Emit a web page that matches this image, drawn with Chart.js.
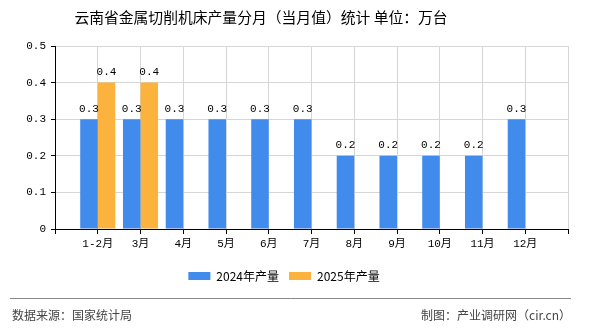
<!DOCTYPE html>
<html>
<head>
<meta charset="utf-8">
<script src="https://cdn.jsdelivr.net/npm/chart.js@4.4.1/dist/chart.umd.min.js"></script>
<style>
  html, body { margin: 0; padding: 0; background: #fff; }
  #wrap { width: 590px; height: 330px; position: relative; }
</style>
</head>
<body>
<div id="wrap"><canvas id="grafico"></canvas></div>
<script>
// datos del grafico
const meses = ["1-2月", "3月", "4月", "5月", "6月", "7月", "8月", "9月", "10月", "11月", "12月"];
const produccion2024 = [0.3, 0.3, 0.3, 0.3, 0.3, 0.3, 0.2, 0.2, 0.2, 0.2, 0.3];
const produccion2025 = [0.4, 0.4, null, null, null, null, null, null, null, null, null];
const ticksY = [0, 0.1, 0.2, 0.3, 0.4, 0.5];

const titulo = "云南省金属切削机床产量分月（当月值）统计 单位：万台";
const fuente = "数据来源：国家统计局";
const autor = "制图：产业调研网（cir.cn）";

const azul = "#418bed";
const naranja = "#fbb33e";
const mono = "'Liberation Mono', 'Noto Sans CJK SC', monospace";
const cjk = "'Noto Sans CJK SC', sans-serif";

// huecos a los lados, como en el original
const etiquetas = ["", ...meses, ""];
const rellenar = arr => [null, ...arr, null];

// etiquetas encima de las barras + titulo + pie
const extras = {
  id: "extras",
  afterDatasetsDraw(chart) {
    const ctx = chart.ctx;
    ctx.save();
    ctx.font = "11px " + mono;
    ctx.fillStyle = "#000";
    ctx.textAlign = "center";
    ctx.textBaseline = "bottom";
    chart.data.datasets.forEach((ds, i) => {
      const meta = chart.getDatasetMeta(i);
      meta.data.forEach((bar, j) => {
        const v = ds.data[j];
        if (v === null || v === undefined) return;
        ctx.fillText(v.toFixed(1), bar.x, bar.y - 5);
      });
    });
    ctx.restore();
  },
  afterDraw(chart) {
    const ctx = chart.ctx;
    ctx.save();
    ctx.fillStyle = "#000";
    ctx.font = "14.8px " + cjk;
    ctx.textAlign = "center";
    ctx.textBaseline = "middle";
    ctx.fillText(titulo, 261, 17);

    ctx.strokeStyle = "#888";
    ctx.lineWidth = 1;
    ctx.beginPath();
    ctx.moveTo(10, 298.5);
    ctx.lineTo(571, 298.5);
    ctx.stroke();

    ctx.fillStyle = "#444";
    ctx.font = "12px " + cjk;
    ctx.textAlign = "left";
    ctx.fillText(fuente, 12, 315);
    ctx.textAlign = "right";
    ctx.fillText(autor, 571, 315);
    ctx.restore();
  }
};

const ctx = document.getElementById("grafico").getContext("2d");
new Chart(ctx, {
  type: "bar",
  data: {
    labels: etiquetas,
    datasets: [
      { label: "2024年产量", data: rellenar(produccion2024), backgroundColor: azul },
      { label: "2025年产量", data: rellenar(produccion2025), backgroundColor: naranja }
    ]
  },
  options: {
    responsive: true,
    maintainAspectRatio: false,
    animation: false,
    layout: { padding: { left: 0, right: 22, top: 46, bottom: 38 } },
    datasets: { bar: { categoryPercentage: 0.82, barPercentage: 1 } },
    scales: {
      x: {
        offset: false,
        grid: { offset: false, color: "#d6d6d6", tickColor: "#000", tickLength: 5 },
        border: { color: "#000" },
        ticks: { color: "#000", font: { family: mono, size: 11 }, padding: 3, autoSkip: false, maxRotation: 0 },
        afterFit(scale) { scale.height = 31; }
      },
      y: {
        min: 0,
        max: 0.5,
        afterBuildTicks(scale) { scale.ticks = ticksY.map(v => ({ value: v })); },
        grid: { color: "#d6d6d6", tickColor: "#000", tickLength: 4 },
        border: { color: "#000" },
        ticks: {
          color: "#000",
          font: { family: mono, size: 11 },
          padding: 5,
          callback: v => (v === 0 ? "0" : v.toFixed(1))
        },
        afterFit(scale) { scale.width = 55; }
      }
    },
    plugins: {
      title: { display: false },
      tooltip: { enabled: false },
      legend: {
        position: "bottom",
        labels: { boxWidth: 22, boxHeight: 8, color: "#000", padding: 10, font: { family: cjk, size: 12 } }
      }
    }
  },
  plugins: [extras]
});
</script>
</body>
</html>
